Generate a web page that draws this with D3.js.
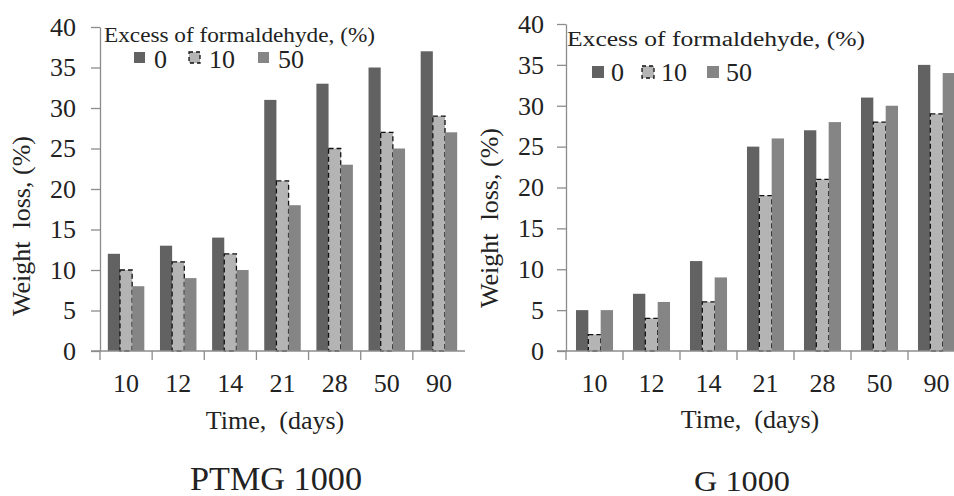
<!DOCTYPE html>
<html>
<head>
<meta charset="utf-8">
<script src="https://cdn.jsdelivr.net/npm/d3@7"></script>
<style>
  body { margin: 0; background: #fff; }
  svg { display: block; }
  svg text { fill: #222; font-family: 'Liberation Serif', 'Times New Roman', Tinos, Times, serif; }
</style>
</head>
<body>
<div id="chart-area"></div>
<script>
// time points (days) and formaldehyde excess (%)
var days = ['10', '12', '14', '21', '28', '50', '90'];
var excess = ['0', '10', '50'];
var yTicks = [0, 5, 10, 15, 20, 25, 30, 35, 40];

// weight loss (%) for PTMG 1000
var ptmg0 = [12, 13, 14, 31, 33, 35, 37];
var ptmg10 = [10, 11, 12, 21, 25, 27, 29];
var ptmg50 = [8, 9, 10, 18, 23, 25, 27];

// weight loss (%) for G 1000
var g0 = [5, 7, 11, 25, 27, 31, 35];
var g10 = [2, 4, 6, 19, 21, 28, 29];
var g50 = [5, 6, 9, 26, 28, 30, 34];

var colors = ['#626262', '#b4b4b4', '#858585'];
var axisColor = '#8c8c8c';

// layout of the two panels
var panels = [
  {
    name: 'PTMG 1000', series: [ptmg0, ptmg10, ptmg50],
    left: 100, right: 465, top: 27, bottom: 351, pad: 0.3, labelPad: 15,
    yTitle: [30, 226], xTitle: [275, 429], nameAt: [276, 490], nameSize: 33, nameLen: 172,
    legTitle: [104, 42, 271], legItems: [134, 189, 258], legSq: [52, 11], legText: 68, legOff: 20
  },
  {
    name: 'G 1000', series: [g0, g10, g50],
    left: 566, right: 965, top: 24, bottom: 351, pad: 0.35, labelPad: 13,
    yTitle: [498, 218], xTitle: [750, 428], nameAt: [742, 491], nameSize: 29, nameLen: 96,
    legTitle: [567, 46, 298], legItems: [592, 642, 707], legSq: [66, 12], legText: 81, legOff: 19
  }
];

var svg = d3.select('#chart-area')
  .append('svg')
    .attr('width', 954)
    .attr('height', 496);

panels.forEach(function (p) {
  var g = svg.append('g');

  var x = d3.scaleBand()
    .domain(days)
    .range([p.left, p.right])
    .paddingInner(p.pad)
    .paddingOuter(p.pad / 2);

  var sub = d3.scaleBand()
    .domain(excess)
    .range([0, x.bandwidth()]);

  var y = d3.scaleLinear()
    .domain([0, 40])
    .range([p.bottom, p.top]);

  // bars
  p.series.forEach(function (vals, si) {
    var bars = g.selectAll('rect.s' + si)
      .data(vals)
      .enter()
      .append('rect')
        .attr('class', 's' + si)
        .attr('x', (v, i) => x(days[i]) + sub(excess[si]))
        .attr('y', v => y(v))
        .attr('width', sub.bandwidth())
        .attr('height', v => p.bottom - y(v))
        .attr('fill', colors[si]);
    if (si === 1) {
      bars.attr('stroke', '#111')
        .attr('stroke-width', 1.3)
        .attr('stroke-dasharray', '5,3');
    }
  });

  // y axis
  var yAxis = g.append('g')
    .attr('transform', 'translate(' + p.left + ',0)')
    .call(d3.axisLeft(y).tickValues(yTicks).tickSize(9).tickSizeOuter(0).tickPadding(p.labelPad));
  yAxis.attr('font-family', null);
  yAxis.select('.domain').attr('stroke', axisColor).attr('stroke-width', 1.3);
  yAxis.selectAll('line').attr('stroke', axisColor).attr('stroke-width', 1.3);
  yAxis.selectAll('text')
    .attr('font-size', 26)
    .attr('fill', '#222');

  // x axis: labels centred in bands, ticks on band boundaries
  var xAxis = g.append('g')
    .attr('transform', 'translate(0,' + p.bottom + ')')
    .call(d3.axisBottom(x).tickSize(0).tickPadding(22.5));
  xAxis.attr('font-family', null);
  xAxis.select('.domain').remove();
  xAxis.selectAll('text')
    .attr('font-size', 26)
    .attr('fill', '#222');

  g.append('line')
    .attr('x1', p.left - 9)
    .attr('x2', p.right)
    .attr('y1', p.bottom)
    .attr('y2', p.bottom)
    .attr('stroke', axisColor)
    .attr('stroke-width', 1.3);

  g.selectAll('line.bound')
    .data(days)
    .enter()
    .append('line')
      .attr('class', 'bound')
      .attr('x1', (d, i) => x.range()[0] + i * x.step())
      .attr('x2', (d, i) => x.range()[0] + i * x.step())
      .attr('y1', p.bottom)
      .attr('y2', p.bottom + 9)
      .attr('stroke', axisColor)
      .attr('stroke-width', 1.3);

  // axis titles
  g.append('text')
    .attr('transform', 'translate(' + p.yTitle[0] + ',' + p.yTitle[1] + ') rotate(-90)')
    .attr('text-anchor', 'middle')
    .attr('font-size', 26)
    .style('white-space', 'pre')
    .text('Weight  loss, (%)');

  g.append('text')
    .attr('x', p.xTitle[0])
    .attr('y', p.xTitle[1])
    .attr('text-anchor', 'middle')
    .attr('font-size', 26)
    .style('white-space', 'pre')
    .text('Time,  (days)');

  g.append('text')
    .attr('x', p.nameAt[0])
    .attr('y', p.nameAt[1])
    .attr('text-anchor', 'middle')
    .attr('font-size', p.nameSize)
    .attr('textLength', p.nameLen)
    .attr('lengthAdjust', 'spacingAndGlyphs')
    .text(p.name);

  // legend
  g.append('text')
    .attr('x', p.legTitle[0])
    .attr('y', p.legTitle[1])
    .attr('font-size', 20)
    .attr('textLength', p.legTitle[2])
    .attr('lengthAdjust', 'spacingAndGlyphs')
    .text('Excess of formaldehyde, (%)');

  var items = g.selectAll('g.leg')
    .data(excess)
    .enter()
    .append('g')
      .attr('class', 'leg');

  items.append('rect')
    .attr('x', (d, i) => p.legItems[i])
    .attr('y', p.legSq[0])
    .attr('width', p.legSq[1])
    .attr('height', p.legSq[1])
    .attr('fill', (d, i) => colors[i])
    .attr('stroke', (d, i) => i === 1 ? '#111' : 'none')
    .attr('stroke-width', 1.3)
    .attr('stroke-dasharray', '4,3');

  items.append('text')
    .attr('x', (d, i) => p.legItems[i] + p.legOff)
    .attr('y', p.legText)
    .attr('font-size', 26)
    .text(d => d);
});
</script>
</body>
</html>
